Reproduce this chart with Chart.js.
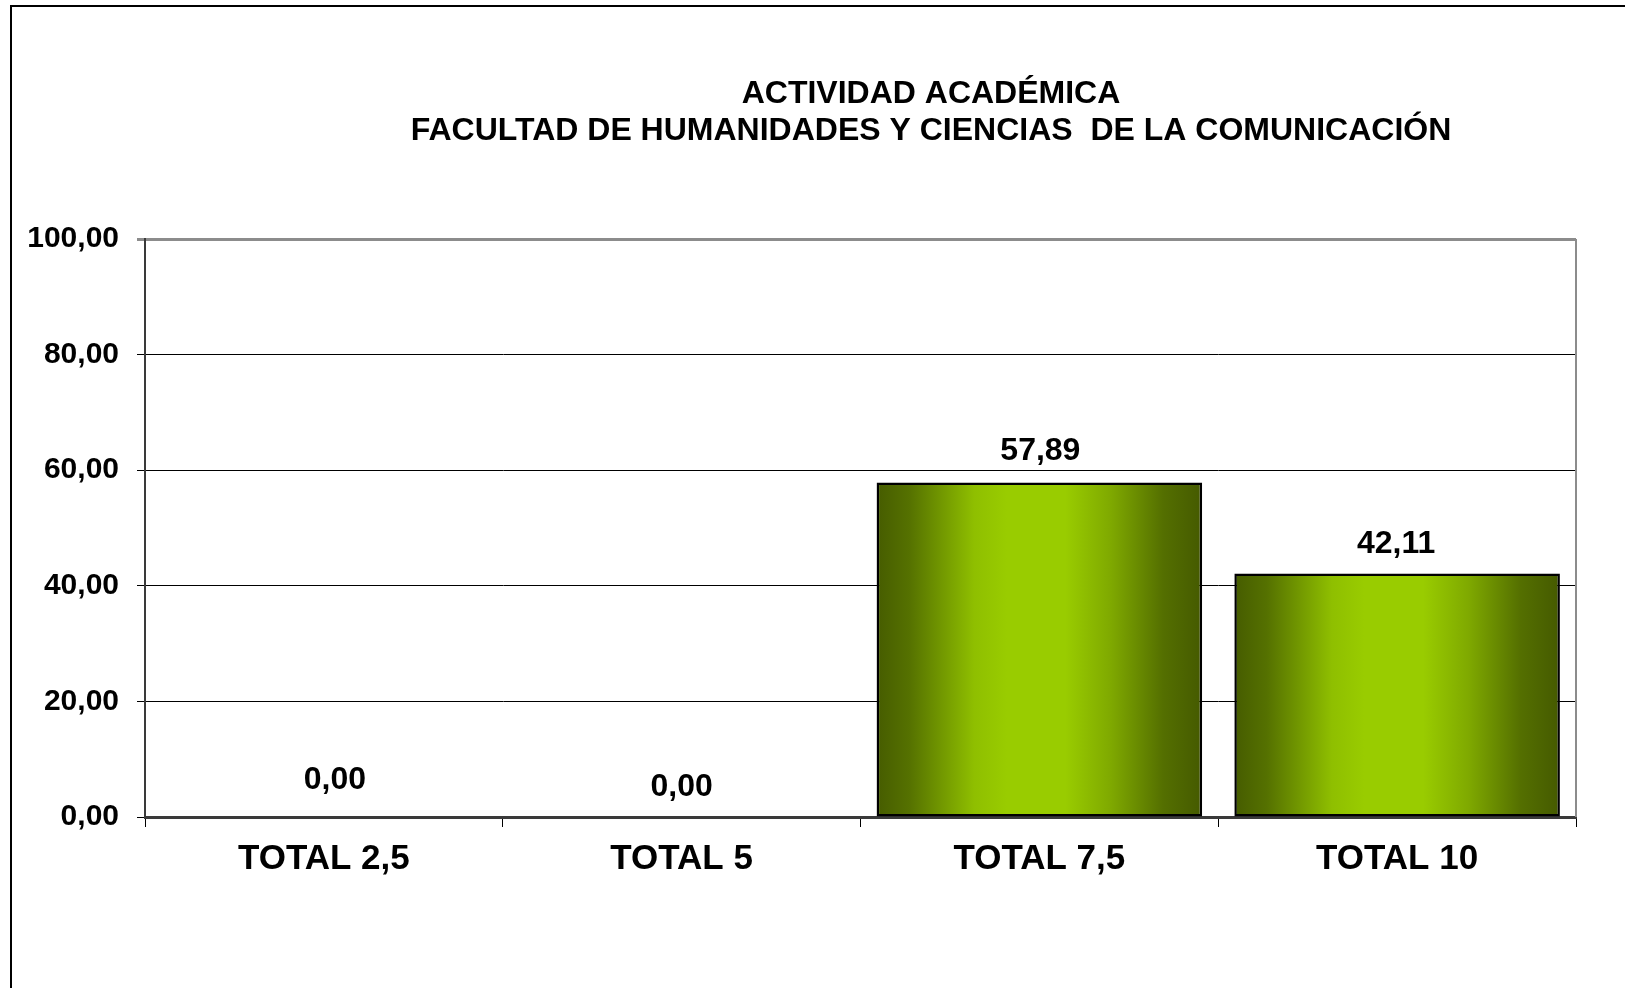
<!DOCTYPE html>
<html>
<head>
<meta charset="utf-8">
<script src="https://cdn.jsdelivr.net/npm/chart.js@4/dist/chart.umd.min.js"></script>
<style>
  html, body { margin: 0; padding: 0; background: #ffffff; }
  #wrap { position: relative; width: 1625px; height: 988px; }
  canvas { display: block; }
</style>
</head>
<body>
<div id="wrap"><canvas id="c" width="1625" height="988"></canvas></div>
<script>
// ---- data ----
const titleLines = ['ACTIVIDAD ACADÉMICA', 'FACULTAD DE HUMANIDADES Y CIENCIAS  DE LA COMUNICACIÓN'];
const categories = ['TOTAL 2,5', 'TOTAL 5', 'TOTAL 7,5', 'TOTAL 10'];
const values = [0.00, 0.00, 57.89, 42.11];
const valueLabels = ['0,00', '0,00', '57,89', '42,11'];
const yTickValues = [0, 20, 40, 60, 80, 100];
const yTickLabels = ['0,00', '20,00', '40,00', '60,00', '80,00', '100,00'];

// ---- style ----
const FONT = '"Liberation Sans", Arial, Helvetica, sans-serif';
const BAR_PCT = 0.91;
const labelDx = [11, 0, 1, -1];
const labelDy = [37, 30, 31, 29];
const gradStops = [
  [0.00, '#465c00'], [0.10, '#557100'], [0.30, '#8fbf00'], [0.40, '#99cc00'],
  [0.58, '#99cc00'], [0.72, '#7fa900'], [0.88, '#546f00'], [1.00, '#455a00']
];

const framePlugin = {
  id: 'frame',
  beforeDraw(chart) {
    const ctx = chart.ctx;
    ctx.save();
    ctx.fillStyle = '#ffffff';
    ctx.fillRect(0, 0, chart.width, chart.height);
    ctx.strokeStyle = '#000000';
    ctx.lineWidth = 2;
    ctx.beginPath();
    ctx.moveTo(11, chart.height);
    ctx.lineTo(11, 6);
    ctx.lineTo(chart.width, 6);
    ctx.stroke();
    ctx.restore();
  },
  afterDraw(chart) {
    const ctx = chart.ctx;
    const a = chart.chartArea;
    ctx.save();
    // right plot border
    ctx.strokeStyle = '#8c8c8c';
    ctx.lineWidth = 2;
    ctx.beginPath();
    ctx.moveTo(a.right, a.top);
    ctx.lineTo(a.right, a.bottom);
    ctx.stroke();
    // title
    ctx.fillStyle = '#000000';
    ctx.font = 'bold 32px ' + FONT;
    ctx.textAlign = 'center';
    ctx.textBaseline = 'middle';
    ctx.fillText(titleLines[0], 931, 94);
    ctx.fillText(titleLines[1], 931, 131);
    ctx.restore();
  }
};

const valueLabelPlugin = {
  id: 'valueLabels',
  afterDatasetsDraw(chart) {
    const ctx = chart.ctx;
    const meta = chart.getDatasetMeta(0);
    ctx.save();
    ctx.fillStyle = '#000000';
    ctx.font = 'bold 32px ' + FONT;
    ctx.textAlign = 'center';
    ctx.textBaseline = 'middle';
    meta.data.forEach((bar, i) => {
      ctx.fillText(valueLabels[i], bar.x + labelDx[i], bar.y - labelDy[i]);
    });
    ctx.restore();
  }
};

new Chart(document.getElementById('c'), {
  type: 'bar',
  data: {
    labels: categories,
    datasets: [{
      data: values,
      backgroundColor: (context) => {
        const chart = context.chart;
        const xs = chart.scales.x;
        if (!xs || context.type !== 'data' || !xs.width) return '#99cc00';
        const c = xs.getPixelForValue(context.dataIndex);
        const w = (xs.width / categories.length) * BAR_PCT;
        const g = chart.ctx.createLinearGradient(c - w / 2, 0, c + w / 2, 0);
        gradStops.forEach(s => g.addColorStop(s[0], s[1]));
        return g;
      },
      borderColor: '#000000',
      borderWidth: 2.5,
      borderSkipped: false,
      barPercentage: BAR_PCT,
      categoryPercentage: 1.0
    }]
  },
  options: {
    responsive: false,
    animation: false,
    devicePixelRatio: 1,
    layout: { padding: { top: 239, right: 49, bottom: 0, left: 0 } },
    plugins: {
      legend: { display: false },
      title: { display: false },
      tooltip: { enabled: false }
    },
    scales: {
      x: {
        offset: true,
        grid: {
          offset: true,
          drawOnChartArea: false,
          drawTicks: true,
          tickLength: 10,
          color: '#000000',
          lineWidth: 1
        },
        border: { display: true, color: '#3a3a3a', width: 3 },
        ticks: {
          color: '#000000',
          font: { family: FONT, size: 35, weight: 'bold' },
          padding: 11,
          maxRotation: 0,
          autoSkip: false
        },
        afterFit(scale) { scale.height = 988 - 817; }
      },
      y: {
        min: 0,
        max: 100,
        afterBuildTicks(scale) { scale.ticks = yTickValues.map(v => ({ value: v })); },
        grid: {
          color: (c) => (c.tick && c.tick.value === 100) ? '#8c8c8c' : '#000000',
          lineWidth: (c) => (c.tick && c.tick.value === 100) ? 3 : 1,
          tickLength: 8,
          drawTicks: true
        },
        border: { display: true, color: '#3a3a3a', width: 2 },
        ticks: {
          color: '#000000',
          font: { family: FONT, size: 30, weight: 'bold' },
          padding: 18,
          callback: (v) => yTickLabels[yTickValues.indexOf(v)]
        },
        afterFit(scale) { scale.width = 145; }
      }
    }
  },
  plugins: [framePlugin, valueLabelPlugin]
});
</script>
</body>
</html>
